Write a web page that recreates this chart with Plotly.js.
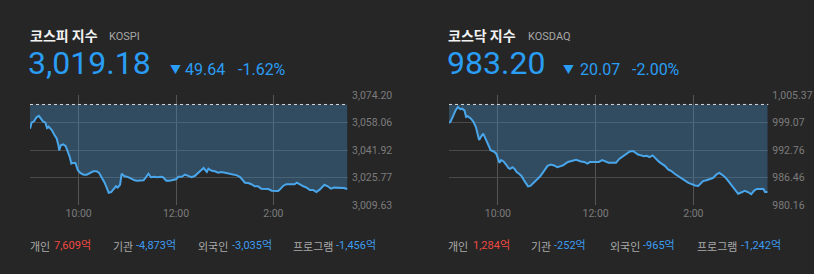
<!DOCTYPE html>
<html>
<head>
<meta charset="utf-8">
<script src="https://cdn.plot.ly/plotly-3.0.1.min.js"></script>
<style>
html,body{margin:0;padding:0;background:#262626;}
#chart{width:814px;height:274px;}
</style>
</head>
<body>
<div id="chart"></div>
<script>
// ---------------- DATA ----------------
// minutes after 09:00
const kospiMinutes = [0,2,5,8,11,13,16,19,21,23,27,30,33,35,36,38,41,44,46,49,51,53,56,59,62,66,70,74,78,82,85,88,92,95,97,100,103,106,108,111,113,116,121,125,129,132,140,143,146,149,153,157,161,164,168,172,176,180,183,187,191,195,199,203,207,212,214,218,220,224,228,232,236,242,249,255,259,261,265,269,273,277,281,285,290,294,298,302,306,309,312,316,322,326,329,333,337,341,345,349,353,357,360,363,367,371,375,380,384,387,391];
const kospiValues = [3054.6,3058.1,3058.9,3061.3,3062.1,3060.5,3058.9,3058.1,3055.0,3055.8,3053.7,3051.1,3048.7,3044.9,3041.9,3044.9,3045.4,3044.3,3041.9,3038.0,3034.1,3034.5,3034.5,3030.2,3028.6,3027.6,3027.6,3028.8,3029.6,3029.6,3028.8,3026.2,3022.9,3019.4,3017.0,3017.4,3019.4,3020.8,3020.0,3021.7,3028.2,3026.8,3026.2,3025.2,3024.3,3024.1,3024.3,3026.2,3028.2,3026.1,3026.4,3026.1,3026.4,3026.1,3024.1,3024.1,3024.3,3024.9,3026.4,3026.4,3027.6,3026.8,3026.1,3026.8,3028.6,3030.8,3031.5,3029.2,3031.1,3029.9,3029.6,3028.8,3029.2,3028.6,3028.0,3027.2,3026.2,3024.9,3022.9,3022.7,3022.0,3020.8,3020.8,3019.4,3019.4,3019.2,3018.2,3018.2,3018.0,3019.4,3021.0,3022.0,3022.0,3022.0,3022.9,3021.7,3020.8,3020.0,3018.6,3018.6,3017.4,3018.8,3020.4,3021.7,3020.8,3019.4,3020.0,3020.0,3020.0,3019.8,3019.18];
const kospiPrevClose = 3068.82;
const kospiTicks = [3009.63,3025.77,3041.92,3058.06,3074.20];

const kosdaqMinutes = [0,2,5,8,11,14,16,19,21,23,27,30,33,35,37,39,42,44,46,49,51,55,58,60,62,64,67,70,73,75,78,81,83,86,89,92,95,97,100,103,106,109,112,115,118,121,125,129,133,140,146,152,156,162,166,170,173,179,184,188,192,196,201,205,209,214,218,222,226,229,232,236,239,243,246,250,254,258,261,265,269,273,277,281,286,290,294,298,302,306,309,312,316,320,324,329,332,335,339,343,347,351,355,360,363,367,371,375,378,382,386,388,391];
const kosdaqValues = [999.0,999.4,1000.6,1001.9,1002.7,1002.2,1002.3,1001.9,1000.4,1000.6,1000.0,999.3,998.1,996.6,995.1,995.8,996.6,995.8,995.1,993.7,992.8,992.5,992.0,991.0,989.9,990.5,990.2,989.5,988.7,988.5,988.9,988.4,987.8,987.4,986.9,985.9,984.9,984.5,984.6,985.1,985.7,986.3,986.8,987.6,988.4,989.2,989.5,989.3,988.9,989.3,990.1,990.5,990.6,990.2,990.1,989.7,990.1,990.1,990.1,990.5,990.2,989.9,989.9,989.9,990.8,991.5,992.0,992.5,992.6,992.2,991.8,991.6,991.4,991.5,991.2,991.6,990.8,990.1,989.7,989.2,988.4,988.0,987.4,986.9,986.3,985.8,985.3,985.0,984.7,984.6,985.1,985.7,985.9,986.1,986.4,987.3,987.6,987.2,986.6,985.7,984.7,983.8,982.8,983.2,983.5,983.2,982.7,983.6,983.9,983.9,983.9,983.2,983.2];
const kosdaqPrevClose = 1003.27;
const kosdaqTicks = [980.16,986.46,992.76,999.07,1005.37];

const timeTickVals = [60,180,300];
const timeTickText = ["10:00","12:00","2:00"];

const kospiHeader = {name:"코스피 지수", code:"KOSPI", value:"3,019.18", change:"49.64", pct:"-1.62%"};
const kosdaqHeader = {name:"코스닥 지수", code:"KOSDAQ", value:"983.20", change:"20.07", pct:"-2.00%"};
const investorLabels = ["개인","기관","외국인","프로그램"];
const kospiInvestors = ["7,609억","-4,873억","-3,035억","-1,456억"];
const kosdaqInvestors = ["1,284억","-252억","-965억","-1,242억"];

// ---------------- STYLE ----------------
const W = 814, H = 274;
const BG = '#262626';
const LINE = '#4aa6ea';
const FILL = 'rgba(70,140,200,0.36)';
const GRID = '#4a4a4a';
const BLUE = '#2a9df4';
const RED = '#ee4a42';
const KFONT = '"Noto Sans CJK KR", "Noto Sans", sans-serif';
const NFONT = 'Roboto, "Noto Sans CJK KR", sans-serif';

const px = x => x / W;
const py = y => 1 - y / H;
const fmt = v => v.toLocaleString('en-US',{minimumFractionDigits:2, maximumFractionDigits:2});

function traces(xs, ys, prev, xa, ya){
  return [
    {x:[xs[0], xs[xs.length-1]], y:[prev, prev], xaxis:xa, yaxis:ya, mode:'lines',
     line:{width:0, color:'rgba(0,0,0,0)'}, hoverinfo:'skip', showlegend:false},
    {x:xs, y:ys, xaxis:xa, yaxis:ya, mode:'lines', fill:'tonexty', fillcolor:FILL,
     line:{color:LINE, width:2, shape:'linear'}, showlegend:false}
  ];
}

function yAxis(ticks, anchor){
  return {domain:[py(205.3), py(95.3)], range:[ticks[0], ticks[ticks.length-1]], side:'right', anchor:anchor,
    tickvals:ticks, ticktext:ticks.map(fmt), showgrid:true, gridcolor:GRID, gridwidth:1,
    zeroline:false, showline:false, ticks:'', ticklabelstandoff:3,
    tickfont:{family:NFONT, size:10.5, color:'#7c7c7c'}, fixedrange:true};
}
function xAxis(dom, anchor){
  return {domain:dom, range:[0,392], anchor:anchor, tickvals:timeTickVals, ticktext:timeTickText,
    showgrid:true, gridcolor:'#555555', gridwidth:1, zeroline:false, showline:false, ticks:'',
    tickfont:{family:NFONT, size:10.5, color:'#7c7c7c'}, fixedrange:true};
}

const data = [].concat(
  traces(kospiMinutes, kospiValues, kospiPrevClose, 'x', 'y'),
  traces(kosdaqMinutes, kosdaqValues, kosdaqPrevClose, 'x2', 'y2')
);

const ann = [];
function t(text, x, y, size, color, family, bold){
  ann.push({text: bold ? '<b>'+text+'</b>' : text, xref:'paper', yref:'paper', x:px(x), y:py(y),
    xanchor:'left', yanchor:'middle', showarrow:false, borderpad:0,
    font:{size:size, color:color, family:family}});
}
function header(h, o){
  t(h.name, o.name, 35.5, 14, '#f2f2f2', KFONT, true);
  t(h.code, o.code, 36.5, 11, '#a6a6a6', NFONT, false);
  t(h.value, o.value, 63.5, 32, BLUE, NFONT, false);
  t('▼', o.tri, 69.5, 11, BLUE, KFONT, false);
  t(h.change, o.change, 69, 16, BLUE, NFONT, false);
  t(h.pct, o.pct, 69, 16, BLUE, NFONT, false);
}
header(kospiHeader, {name:28.5, code:108, value:27, tri:169, change:183.5, pct:236.5});
header(kosdaqHeader, {name:446.5, code:526.5, value:446, tri:562, change:578.5, pct:630.5});

function investors(vals, labX, numX){
  vals.forEach((v,i)=>{
    t(investorLabels[i], labX[i], 245.5, 11, '#a9a9a9', KFONT, false);
    t(v, numX[i], 245.5, 11, v.startsWith('-') ? '#3d9cf0' : RED, NFONT, false);
  });
}
investors(kospiInvestors, [28.5,112,197,292], [53,134.5,230.5,334.5]);
investors(kosdaqInvestors, [447,530,608.5,696], [472,553,641.5,739.5]);

const shapes = [
  {type:'line', xref:'x domain', yref:'y', x0:0, x1:1, y0:kospiPrevClose, y1:kospiPrevClose,
   line:{color:'#d8d8d8', width:1, dash:'dot'}},
  {type:'line', xref:'x2 domain', yref:'y2', x0:0, x1:1, y0:kosdaqPrevClose, y1:kosdaqPrevClose,
   line:{color:'#d8d8d8', width:1, dash:'dot'}}
];

const layout = {
  width:W, height:H, margin:{l:0,r:0,t:0,b:0}, paper_bgcolor:BG, plot_bgcolor:BG,
  showlegend:false, hovermode:false,
  xaxis: xAxis([px(30), px(348)], 'y'),
  yaxis: yAxis(kospiTicks, 'x'),
  xaxis2: xAxis([px(449), px(768.3)], 'y2'),
  yaxis2: yAxis(kosdaqTicks, 'x2'),
  annotations: ann, shapes: shapes
};

Plotly.newPlot('chart', data, layout, {displayModeBar:false, staticPlot:true});
</script>
</body>
</html>
